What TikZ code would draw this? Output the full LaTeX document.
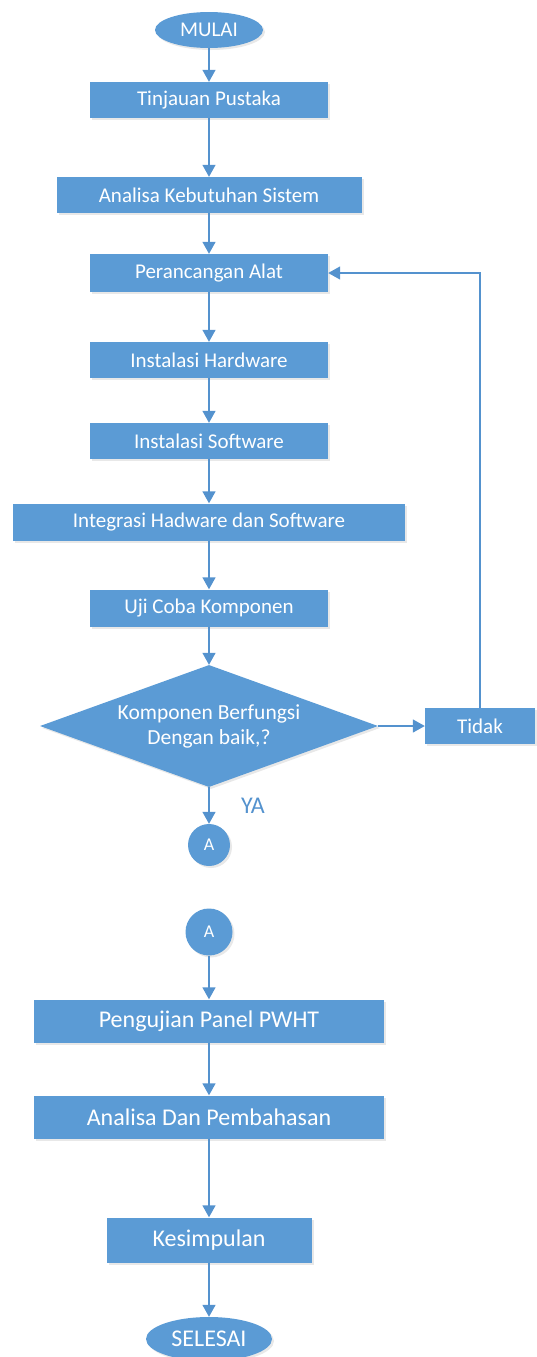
\documentclass[tikz,border=0pt]{standalone}
\usepackage{fontspec}
\setmainfont{Carlito}
\usetikzlibrary{shapes.geometric,arrows.meta,shadows}
\definecolor{flowBlue}{RGB}{91,155,213}
\definecolor{flowLine}{RGB}{84,146,206}

\begin{document}
\begin{tikzpicture}[x=1pt,y=-1pt,
    shade/.style={drop shadow={opacity=0.18, shadow xshift=2pt, shadow yshift=-2pt}},
    proc/.style={rectangle, fill=flowBlue, text=white, inner sep=0pt, shade,
      font=\fontsize{21}{24}\selectfont},
    bigproc/.style={proc, font=\fontsize{24}{28}\selectfont},
    term/.style={ellipse, fill=flowBlue, text=white, inner sep=0pt, shade,
      font=\fontsize{21}{24}\selectfont},
    conn/.style={circle, fill=flowBlue, text=white, inner sep=0pt, shade,
      font=\fontsize{18}{22}\selectfont},
    flow/.style={draw=flowLine, line width=1.5pt, -{Triangle[length=12pt,width=13pt]}}]
  \useasboundingbox (0,0) rectangle (536,1357);

  \node[term, minimum width=108pt, minimum height=36pt] (mulai) at (209,30) {MULAI};
  \node[proc, minimum width=238pt, minimum height=36pt] (tinjau) at (209,100) {Tinjauan Pustaka};
  \node[proc, minimum width=305pt, minimum height=36pt] (butuh) at (209,195) {Analisa Kebutuhan Sistem};
  \node[proc, minimum width=238pt, minimum height=38pt] (rancang) at (209,273) {Perancangan Alat};
  \node[proc, minimum width=238pt, minimum height=36pt] (hard) at (209,360) {Instalasi Hardware};
  \node[proc, minimum width=238pt, minimum height=36pt] (soft) at (209,441) {Instalasi Software};
  \node[proc, minimum width=392pt, minimum height=37pt] (integ) at (209,522) {Integrasi Hadware dan Software};
  \node[proc, minimum width=238pt, minimum height=37pt] (uji) at (209,608) {Uji Coba Komponen};
  \node[diamond, aspect=2.77, fill=flowBlue, text=white, inner sep=0pt, shade, align=center,
    minimum width=338pt, minimum height=122pt, font=\fontsize{21.5}{25}\selectfont]
    (cek) at (209,726) {Komponen Berfungsi\\Dengan baik,?};
  \node[proc, minimum width=110pt, minimum height=36pt] (tidak) at (480,726) {Tidak};
  \node[conn, minimum size=42pt] (a1) at (209,845) {A};

  \node[conn, minimum size=47pt] (a2) at (209,932) {A};
  \node[bigproc, minimum width=350pt, minimum height=43pt] (uji2) at (209,1021) {Pengujian Panel PWHT};
  \node[bigproc, minimum width=350pt, minimum height=43pt] (bahas) at (209,1117) {Analisa Dan Pembahasan};
  \node[bigproc, minimum width=205pt, minimum height=45pt] (simpul) at (209,1240) {Kesimpulan};
  \node[term, minimum width=126pt, minimum height=44pt, font=\fontsize{24}{28}\selectfont] (selesai) at (209,1339) {SELESAI};

  % alur utama
  \draw[flow] (mulai) -- (tinjau);
  \draw[flow] (tinjau) -- (butuh);
  \draw[flow] (butuh) -- (rancang);
  \draw[flow] (rancang) -- (hard);
  \draw[flow] (hard) -- (soft);
  \draw[flow] (soft) -- (integ);
  \draw[flow] (integ) -- (uji);
  \draw[flow] (uji) -- (cek);
  \draw[flow] (cek) -- (tidak);
  \draw[flow] (tidak.north) |- (rancang.east);
  \draw[flow] (cek.south) -- node[right=28pt, text=flowLine, font=\fontsize{24}{28}\selectfont] {YA} (a1.north);

  \draw[flow] (a2) -- (uji2);
  \draw[flow] (uji2) -- (bahas);
  \draw[flow] (bahas) -- (simpul);
  \draw[flow] (simpul) -- (selesai);
\end{tikzpicture}
\end{document}
